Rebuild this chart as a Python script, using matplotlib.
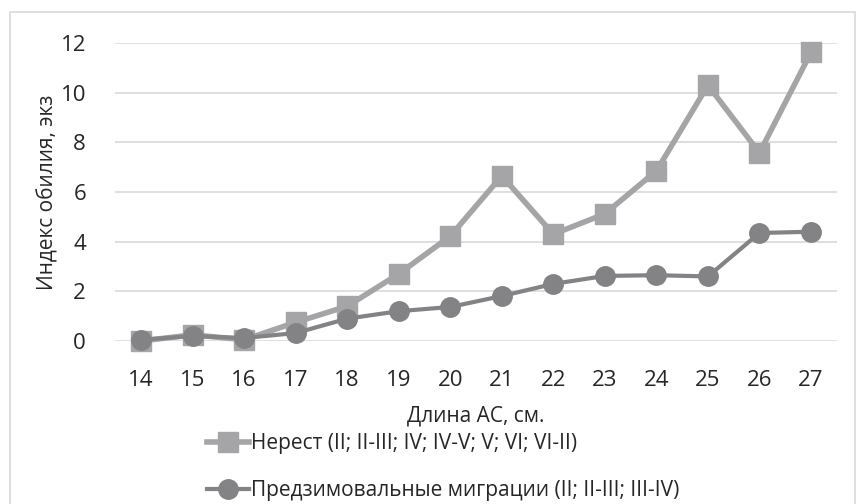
import matplotlib.pyplot as plt
from matplotlib.patches import Rectangle

plt.rcParams['font.family'] = ['Open Sans', 'DejaVu Sans']

lengths = [14, 15, 16, 17, 18, 19, 20, 21, 22, 23, 24, 25, 26, 27]
spawn = [0.0, 0.25, 0.05, 0.75, 1.4, 2.7, 4.22, 6.65, 4.3, 5.12, 6.85, 10.3, 7.58, 11.62]
migr = [0.05, 0.2, 0.12, 0.32, 0.9, 1.2, 1.37, 1.81, 2.3, 2.62, 2.65, 2.6, 4.35, 4.4]
spawn_label = 'Нерест (II; II-III; IV; IV-V; V; VI; VI-II)'
migr_label = 'Предзимовальные миграции (II; II-III; III-IV)'

c_spawn = '#a5a5a7'
c_migr = '#838386'
txt = '#262626'

fig = plt.figure(figsize=(8.6, 5.04), dpi=100)
ax = fig.add_axes([0.134, 0.3234, 0.839, 0.5913])

# chart border
fig.patches.append(Rectangle((10 / 860, -0.01), 845 / 860, 1 - 12 / 504 + 0.01,
                             transform=fig.transFigure, fill=False,
                             edgecolor='#d9d9d9', linewidth=1.2))

l1, = ax.plot(lengths, spawn, color=c_spawn, lw=4, marker='s', ms=14,
              label=spawn_label, clip_on=False, zorder=3)
l2, = ax.plot(lengths, migr, color=c_migr, lw=3, marker='o', ms=14,
              label=migr_label, clip_on=False, zorder=4)

ax.set_xlim(13.5, 27.5)
ax.set_ylim(0, 12)
ax.set_xticks(lengths)
ax.set_yticks(range(0, 13, 2))
ax.tick_params(length=0, labelsize=16, labelcolor=txt)
ax.tick_params(axis='x', pad=21)
ax.tick_params(axis='y', pad=21)
ax.grid(axis='y', color='#d9d9d9', lw=1.2)
ax.set_axisbelow(True)
for s in ax.spines.values():
    s.set_visible(False)

ax.set_xlabel('Длина АС, см.', fontsize=15, color=txt, labelpad=10)
ax.set_ylabel('Индекс обилия, экз', fontsize=15, color=txt)
ax.yaxis.set_label_coords(-0.078, 0.5)

fig.legend(handles=[l1, l2], loc='upper left', bbox_to_anchor=(207 / 860, 0.141),
           frameon=False, fontsize=15, handlelength=2.0, handletextpad=0.1,
           labelspacing=1.25, labelcolor=txt, borderaxespad=0, borderpad=0)

fig.savefig('out.png', dpi=100)
